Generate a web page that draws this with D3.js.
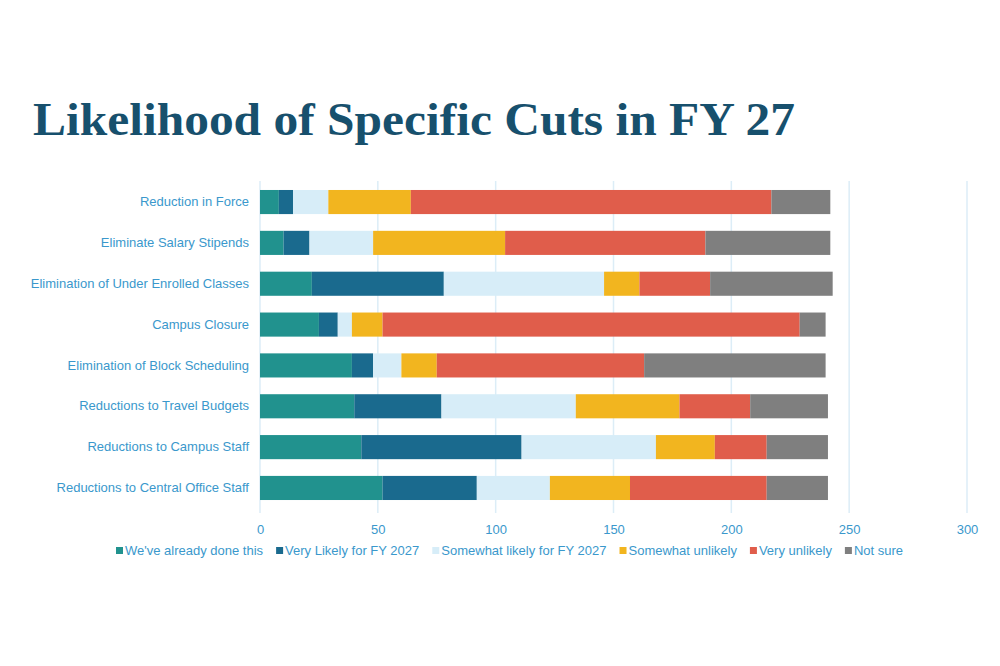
<!DOCTYPE html>
<html>
<head>
<meta charset="utf-8">
<script src="https://cdn.jsdelivr.net/npm/d3@7"></script>
<style>
  body { margin: 0; background: #fff; }
</style>
</head>
<body>
<div id="chart"></div>
<script>
// Categories, top to bottom
var categories = [
    "Reduction in Force",
    "Eliminate Salary Stipends",
    "Elimination of Under Enrolled Classes",
    "Campus Closure",
    "Elimination of Block Scheduling",
    "Reductions to Travel Budgets",
    "Reductions to Campus Staff",
    "Reductions to Central Office Staff"
];

// Series names (stack order, left to right)
var seriesNames = [
    "We've already done this",
    "Very Likely for FY 2027",
    "Somewhat likely for FY 2027",
    "Somewhat unlikely",
    "Very unlikely",
    "Not sure"
];

// Values per series, one per category
var alreadyDone      = [8, 10, 22, 25, 39, 40, 43, 52];
var veryLikely       = [6, 11, 56, 8, 9, 37, 68, 40];
var somewhatLikely   = [15, 27, 68, 6, 12, 57, 57, 31];
var somewhatUnlikely = [35, 56, 15, 13, 15, 44, 25, 34];
var veryUnlikely     = [153, 85, 30, 177, 88, 30, 22, 58];
var notSure          = [25, 53, 52, 11, 77, 33, 26, 26];

var xTicks = [0, 50, 100, 150, 200, 250, 300];

var colors = ["#21928e", "#1a6a8e", "#d7edf8", "#f2b51f", "#e05d4b", "#7f7f7f"];

var width = 1000, height = 666;
var margin = { left: 260, right: 33, top: 181, bottom: 157 };
var labelFont = "Liberation Sans, Arial, sans-serif";
var labelColor = "#3a98cc";

var svg = d3.select("#chart")
    .append("svg")
    .attr("width", width)
    .attr("height", height);

// Title
svg.append("text")
    .attr("x", 33)
    .attr("y", 135)
    .attr("font-family", "Liberation Serif, serif")
    .attr("font-weight", "bold")
    .attr("font-size", "46px")
    .attr("fill", "#17506d")
    .attr("textLength", 762)
    .attr("lengthAdjust", "spacingAndGlyphs")
    .text("Likelihood of Specific Cuts in FY 27");

// Build rows for the stack
var seriesValues = [alreadyDone, veryLikely, somewhatLikely, somewhatUnlikely, veryUnlikely, notSure];
var rows = categories.map(function (c, i) {
    var r = { category: c };
    seriesNames.forEach(function (s, j) { r[s] = seriesValues[j][i]; });
    return r;
});
var stacked = d3.stack().keys(seriesNames)(rows);

var x = d3.scaleLinear()
    .domain([0, 300])
    .range([margin.left, width - margin.right]);

var y = d3.scaleBand()
    .domain(categories)
    .range([margin.top, height - margin.bottom])
    .paddingInner(0.41)
    .paddingOuter(0.22);

// Gridlines
svg.append("g")
    .selectAll("line")
    .data(xTicks)
    .enter()
    .append("line")
    .attr("x1", d => x(d))
    .attr("x2", d => x(d))
    .attr("y1", margin.top)
    .attr("y2", height - margin.bottom + 4)
    .attr("stroke", "#dcedf7")
    .attr("stroke-width", 1.5);

// Bars
svg.append("g")
    .selectAll("g")
    .data(stacked)
    .enter()
    .append("g")
    .attr("fill", (d, i) => colors[i])
    .selectAll("rect")
    .data(d => d)
    .enter()
    .append("rect")
    .attr("x", d => x(d[0]))
    .attr("width", d => x(d[1]) - x(d[0]))
    .attr("y", d => y(d.data.category))
    .attr("height", y.bandwidth());

// X axis labels
var xAxis = svg.append("g")
    .attr("transform", "translate(0," + (height - margin.bottom + 4) + ")")
    .call(d3.axisBottom(x).tickValues(xTicks).tickSize(0).tickPadding(12));
xAxis.select(".domain").remove();
xAxis.selectAll("text")
    .attr("font-family", labelFont)
    .attr("font-size", "13px")
    .attr("fill", labelColor);

// Y axis labels
var yAxis = svg.append("g")
    .attr("transform", "translate(" + (margin.left - 11) + ",0)")
    .call(d3.axisLeft(y).tickSize(0).tickPadding(0));
yAxis.select(".domain").remove();
yAxis.selectAll("text")
    .attr("font-family", labelFont)
    .attr("font-size", "13px")
    .attr("fill", labelColor);

// Legend
var legend = svg.append("g").attr("transform", "translate(0,551)");
var lx = 116;
seriesNames.forEach(function (s, i) {
    legend.append("rect")
        .attr("x", lx)
        .attr("y", -4)
        .attr("width", 7)
        .attr("height", 7)
        .attr("fill", colors[i]);
    var t = legend.append("text")
        .attr("x", lx + 9)
        .attr("y", 4)
        .attr("font-family", labelFont)
        .attr("font-size", "13px")
        .attr("fill", labelColor)
        .text(s);
    lx += 9 + t.node().getComputedTextLength() + 13;
});
</script>
</body>
</html>
